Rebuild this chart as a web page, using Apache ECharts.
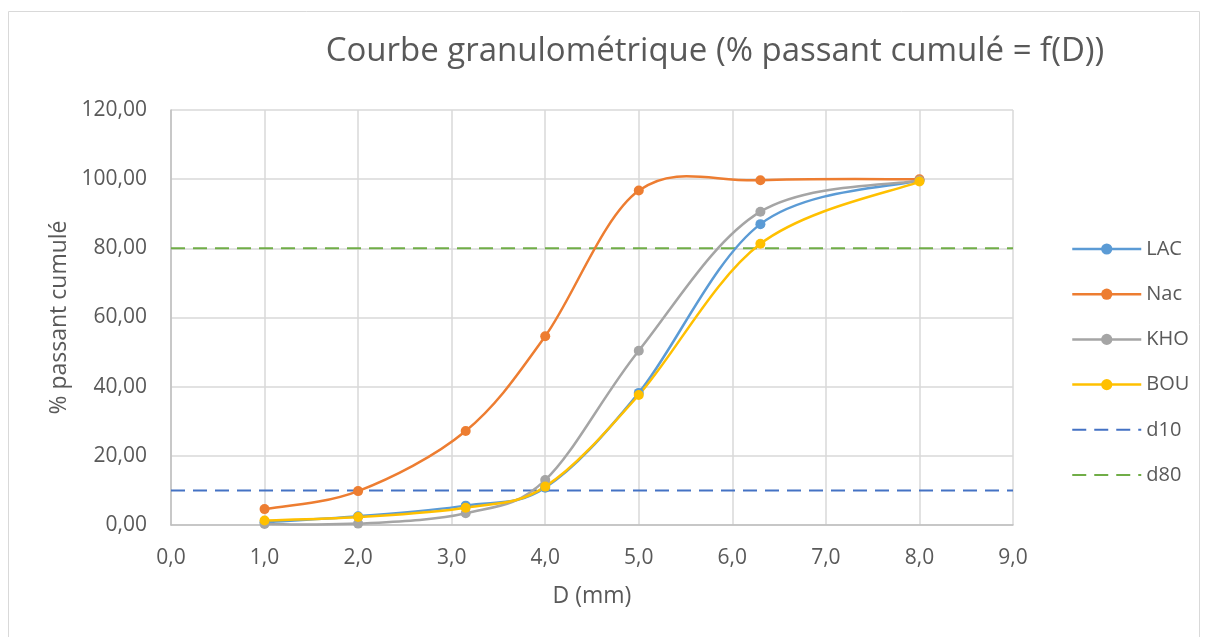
<!DOCTYPE html>
<html>
<head>
<meta charset="utf-8">
<script src="https://cdn.jsdelivr.net/npm/echarts@6/dist/echarts.min.js"></script>
<style>
html,body{margin:0;padding:0;background:#fff;}
#chart{width:1208px;height:637px;}
</style>
</head>
<body>
<div id="chart"></div>
<script>
const diameters = [1, 2, 3.15, 4, 5, 6.3, 8];
const lac = [0.8, 2.5, 5.6, 10.8, 38.2, 87.0, 99.7];
const nac = [4.6, 9.8, 27.2, 54.6, 96.7, 99.7, 100.0];
const kho = [0.3, 0.4, 3.4, 13.0, 50.4, 90.6, 99.6];
const bou = [1.3, 2.3, 5.0, 11.1, 37.6, 81.3, 99.3];
const d10Value = 10;
const d80Value = 80;
const xRange = [0, 9];
const seriesNames = ['LAC', 'Nac', 'KHO', 'BOU', 'd10', 'd80'];
const colors = ['#5B9BD5', '#ED7D31', '#A5A5A5', '#FFC000', '#4472C4', '#70AD47'];

const font = 'Open Sans';
const txt = '#595959';
const LW = 2.5;

function pts(ys) { return diameters.map((d, i) => [d, ys[i]]); }

// markers (and legend icon) as a line series without visible line
function markers(name, ys, color) {
  return {
    name, type: 'line', data: pts(ys), z: 4,
    symbol: 'circle', symbolSize: 10, showSymbol: true,
    lineStyle: { color, width: 0 }, itemStyle: { color },
    emphasis: { disabled: true }
  };
}
// smooth curve (Catmull-Rom style bezier, like the spreadsheet) through the library's coordinates
function curve(name, ys, color) {
  const data = pts(ys);
  const n = data.length;
  return {
    name, type: 'custom', data, z: 3,
    encode: { x: 0, y: 1 },
    renderItem(params, api) {
      const i = params.dataIndex;
      if (i >= n - 1) return { type: 'group', children: [] };
      const P = k => api.coord(data[Math.max(0, Math.min(n - 1, k))]);
      const p0 = P(i - 1), p1 = P(i), p2 = P(i + 1), p3 = P(i + 2);
      return {
        type: 'bezierCurve',
        shape: {
          x1: p1[0], y1: p1[1], x2: p2[0], y2: p2[1],
          cpx1: p1[0] + (p2[0] - p0[0]) / 6, cpy1: p1[1] + (p2[1] - p0[1]) / 6,
          cpx2: p2[0] - (p3[0] - p1[0]) / 6, cpy2: p2[1] - (p3[1] - p1[1]) / 6
        },
        style: { stroke: color, lineWidth: LW, fill: null, lineCap: 'round' },
        silent: true
      };
    }
  };
}
function hline(name, v, color) {
  return {
    name, type: 'line', data: xRange.map(x => [x, v]), z: 2,
    symbol: 'none', lineStyle: { color, width: 2, type: [14, 8] },
    itemStyle: { color }, emphasis: { disabled: true }
  };
}

const curveSets = [lac, nac, kho, bou];
const series = [];
curveSets.forEach((ys, k) => series.push(markers(seriesNames[k], ys, colors[k])));
curveSets.forEach((ys, k) => series.push(curve(seriesNames[k], ys, colors[k])));
series.push(hline(seriesNames[4], d10Value, colors[4]));
series.push(hline(seriesNames[5], d80Value, colors[5]));

const legendData = seriesNames.map((nm, k) => k < 4
  ? { name: nm, lineStyle: { width: LW, color: colors[k] } }
  : { name: nm, itemStyle: { opacity: 0 } });

const chart = echarts.init(document.getElementById('chart'));
chart.setOption({
  animation: false,
  textStyle: { fontFamily: font },
  graphic: [{
    type: 'rect', shape: { x: 8.5, y: 11.5, width: 1191, height: 700 },
    style: { fill: 'none', stroke: '#d9d9d9', lineWidth: 1 }, silent: true, z: -10
  }],
  title: {
    text: 'Courbe granulométrique (% passant cumulé = f(D))',
    left: 715, top: 35, textAlign: 'center', padding: 0,
    textStyle: { fontFamily: font, fontSize: 33, fontWeight: 'normal', color: txt }
  },
  legend: {
    orient: 'vertical', left: 1071, top: 238, padding: 0,
    itemWidth: 69, itemHeight: 14, itemGap: 23.2,
    data: legendData,
    textStyle: { fontFamily: font, fontSize: 20, color: txt, lineHeight: 22 }
  },
  grid: { left: 171, right: 195, top: 110, bottom: 112, containLabel: false },
  xAxis: {
    type: 'value', min: 0, max: 9, interval: 1,
    name: 'D (mm)', nameLocation: 'middle', nameGap: 60,
    nameTextStyle: { fontFamily: font, fontSize: 23, color: txt },
    axisLine: { show: true, onZero: false, lineStyle: { color: '#bfbfbf', width: 1.5 } },
    axisTick: { show: false },
    axisLabel: { margin: 23, fontSize: 21, color: txt, fontFamily: font,
      formatter: v => v.toFixed(1).replace('.', ',') },
    splitLine: { show: true, lineStyle: { color: '#d9d9d9', width: 1.5 } }
  },
  yAxis: {
    type: 'value', min: 0, max: 120, interval: 20,
    name: '% passant cumulé', nameLocation: 'middle', nameGap: 96,
    nameTextStyle: { fontFamily: font, fontSize: 23, color: txt },
    axisLine: { show: true, lineStyle: { color: '#bfbfbf', width: 1.5 } },
    axisTick: { show: false },
    axisLabel: { margin: 24, fontSize: 21, color: txt, fontFamily: font,
      formatter: v => v.toFixed(2).replace('.', ',') },
    splitLine: { show: true, lineStyle: { color: '#d9d9d9', width: 1.5 } }
  },
  series
});
</script>
</body>
</html>
